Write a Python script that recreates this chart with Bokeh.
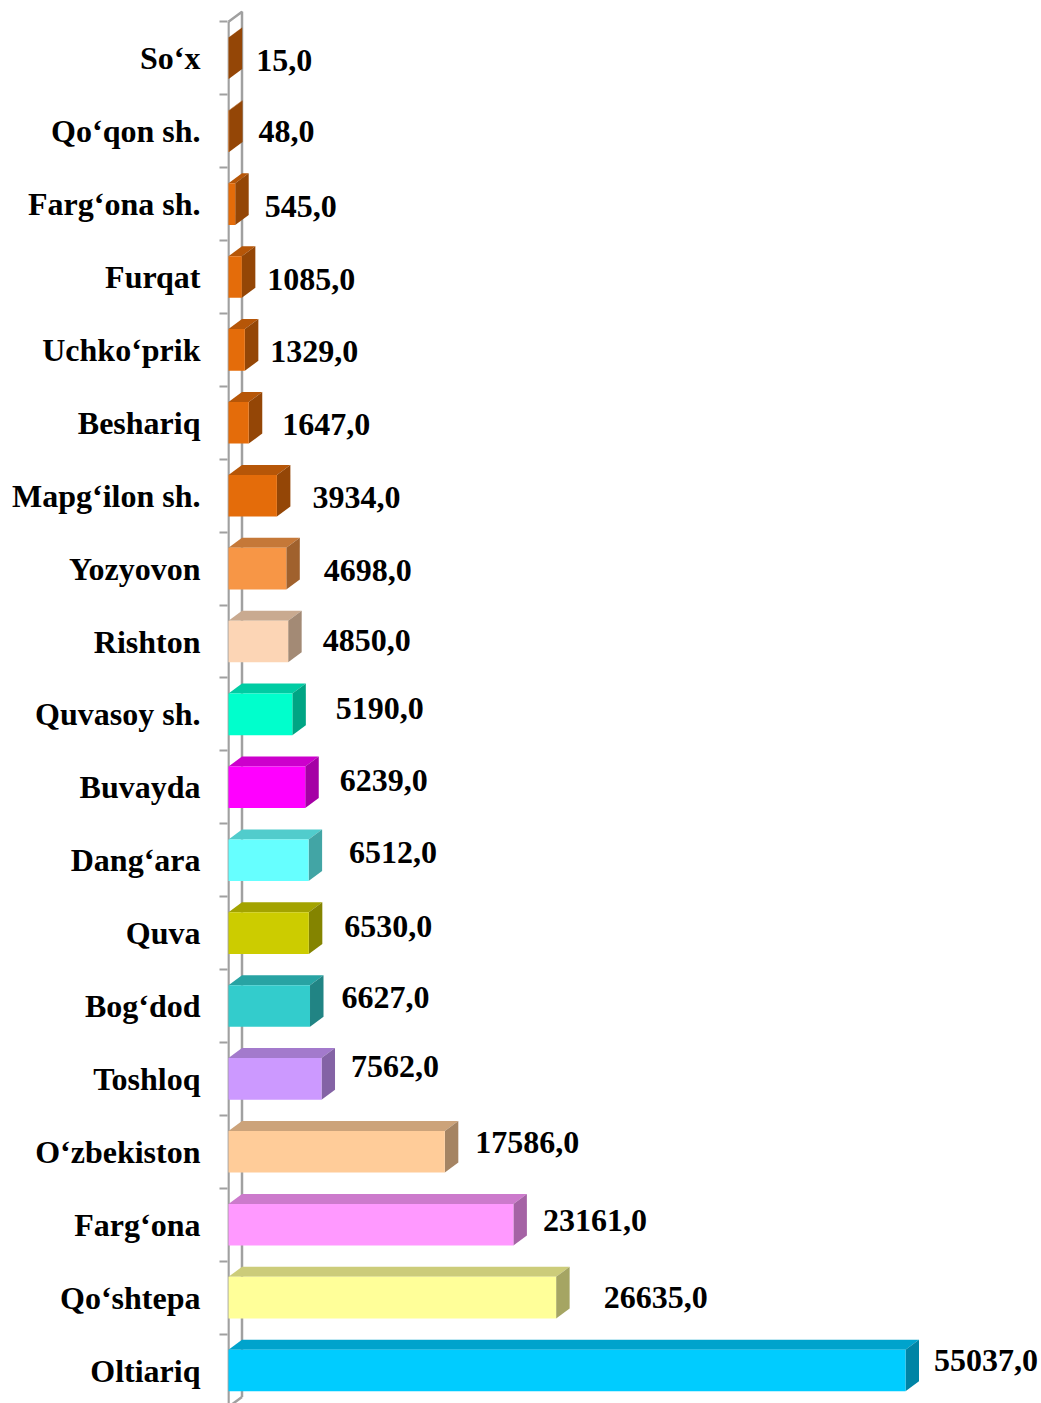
from bokeh.plotting import figure
from bokeh.models import FixedTicker, Range1d
from bokeh.core.properties import value
from bokeh.embed import file_html
from bokeh.resources import INLINE

# Data (top to bottom as in the chart)
categories = ["So‘x", "Qo‘qon sh.", "Farg‘ona sh.", "Furqat", "Uchko‘prik", "Beshariq",
              "Mapg‘ilon sh.", "Yozyovon", "Rishton", "Quvasoy sh.", "Buvayda", "Dang‘ara",
              "Quva", "Bog‘dod", "Toshloq", "O‘zbekiston", "Farg‘ona", "Qo‘shtepa", "Oltiariq"]
values = [15.0, 48.0, 545.0, 1085.0, 1329.0, 1647.0, 3934.0, 4698.0, 4850.0, 5190.0,
          6239.0, 6512.0, 6530.0, 6627.0, 7562.0, 17586.0, 23161.0, 26635.0, 55037.0]

# Styles
front_colors = ["#E46C0A", "#E46C0A", "#E46C0A", "#E46C0A", "#E46C0A", "#E46C0A",
                "#E46C0A", "#F79646", "#FCD5B5", "#00FFCC", "#FF00FF", "#66FFFF",
                "#CCCC00", "#33CCCC", "#CC99FF", "#FFCC99", "#FF99FF", "#FFFF99", "#00CCFF"]
label_dx = [14, 16, 16, 12, 12, 20, 22, 24, 21, 30, 21, 27, 22, 18, 16, 17, 16, 34, 15]
label_dy = [2, 0, 2, 2, 2, 2, 2, 2, -1, -6, -7, -8, -7, -9, -12, -9, -4, 0, -10]


def shade(hexcol, f):
    h = hexcol.lstrip("#")
    r, g, b = (int(h[i:i + 2], 16) for i in (0, 2, 4))
    return "#%02X%02X%02X" % (int(r * f), int(g * f), int(b * f))


n = len(categories)
ys = [n - 1 - j for j in range(n)]

W, H = 1041, 1403
left_border = 227
frame_w = W - left_border
bar_max_px = 677.0
u = max(values) / bar_max_px          # data units per pixel (x)
pad_px = 1
x_start = -pad_px * u
x_end = x_start + frame_w * u
step_px = 72.9                        # pixels per category (y)
y_start = -33.0 / step_px
y_end = y_start + H / step_px

depth_x = 13.5 * u
depth_y = 10.0 / step_px
bar_h = 0.57

p = figure(width=W, height=H, output_backend="svg", toolbar_location=None,
           x_range=Range1d(x_start, x_end), y_range=Range1d(y_start, y_end),
           min_border_left=left_border, min_border_right=0, min_border_top=0,
           min_border_bottom=0)
p.outline_line_color = None
p.xgrid.visible = False
p.ygrid.visible = False
p.xaxis.visible = False
p.background_fill_color = "white"
p.border_fill_color = "white"

yax = p.yaxis[0]
yax.ticker = FixedTicker(ticks=ys, minor_ticks=[k - 0.5 for k in range(n + 1)])
yax.major_label_overrides = {y: c for y, c in zip(ys, categories)}
yax.axis_line_color = None
yax.major_tick_line_color = None
yax.major_tick_out = 0
yax.major_tick_in = 0
yax.minor_tick_out = 8
yax.minor_tick_in = 0
yax.minor_tick_line_color = "#A0A0A0"
yax.minor_tick_line_width = 2
yax.major_label_standoff = 19
yax.major_label_text_font = "Liberation Serif"
yax.major_label_text_font_style = "bold"
yax.major_label_text_font_size = "32px"
yax.major_label_text_color = "black"

# 3D wall
top_b = n - 0.5
bot_b = -0.5
wall_col = "#A0A0A0"
p.line([0, 0], [bot_b, top_b], line_color=wall_col, line_width=2.5)
p.line([0, depth_x, depth_x], [top_b, top_b + depth_y, bot_b + depth_y],
       line_color=wall_col, line_width=2.5)
p.line([depth_x, 0], [bot_b + depth_y, bot_b], line_color=wall_col, line_width=2.5)

# Bars
tops = [y + bar_h / 2 for y in ys]
bots = [y - bar_h / 2 for y in ys]
top_xs, top_ys, side_xs, side_ys = [], [], [], []
for v, t, b in zip(values, tops, bots):
    top_xs.append([0, v, v + depth_x, depth_x])
    top_ys.append([t, t, t + depth_y, t + depth_y])
    side_xs.append([v, v, v + depth_x, v + depth_x])
    side_ys.append([b, t, t + depth_y, b + depth_y])

p.patches(top_xs, top_ys, fill_color=[shade(c, 0.8) for c in front_colors],
          line_color=None)
p.patches(side_xs, side_ys, fill_color=[shade(c, 0.65) for c in front_colors],
          line_color=None)
p.quad(left=[0] * n, right=values, bottom=bots, top=tops, fill_color=front_colors,
       line_color=None)

# Value labels
texts = [("%.1f" % v).replace(".", ",") for v in values]
p.text(x=values, y=ys, text=texts, x_offset=[13.5 + d for d in label_dx],
       y_offset=label_dy, text_font=value("Liberation Serif"), text_font_style="bold",
       text_font_size="32px", text_color="black", text_align="left",
       text_baseline="middle")

open("out.html", "w").write(file_html(p, INLINE))
